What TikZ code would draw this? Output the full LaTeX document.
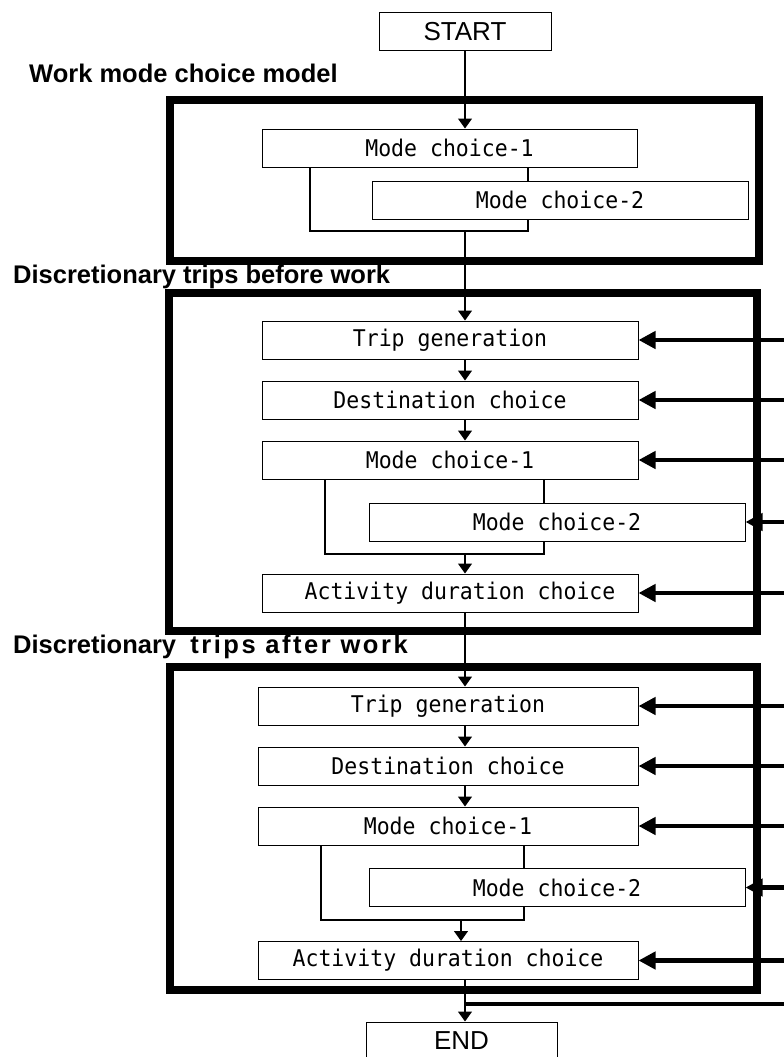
\documentclass[tikz,border=0pt]{standalone}
\usepackage{fontspec}
\setmainfont{Liberation Sans}
\newfontfamily\boxfont[FakeStretch=0.935]{DejaVu Sans Mono}
\usetikzlibrary{positioning,arrows.meta}

\begin{document}
\begin{tikzpicture}[
    x=1pt, y=-1pt,
    node distance=21pt,
    box/.style={draw, line width=1pt, inner sep=0pt, minimum width=376pt, minimum height=38pt, font=\boxfont\fontsize{23}{26}\selectfont},
    term/.style={draw, line width=1pt, inner sep=0pt, minimum width=172pt, minimum height=38pt, font=\fontsize{26}{30}\selectfont},
    frame/.style={line width=8pt},
    grp/.style={anchor=base west, inner sep=0pt, font=\bfseries\fontsize{25.5}{30}\selectfont},
    link/.style={line width=1.2pt},
    arr/.style={link, -{Triangle[length=10pt, width=14pt]}},
    feed/.style={line width=4.3pt, -{Triangle[length=17pt, width=17pt]}}
]
\useasboundingbox (0,0) rectangle (784,1057);
\coordinate (edge) at (784,0);

\draw[frame] (170,100) rectangle (759,261);
\draw[frame] (169,293) rectangle (757,631);
\draw[frame] (170,667) rectangle (757,990);

\node[grp] (lwork) at (29,82) {Work mode choice model};
\node[grp] (lbefore) at (13,283) {Discretionary trips before work};
\node[grp] (lafter) at (13,653) {Discretionary\ \ {\addfontfeature{LetterSpace=10}trips after work}};

\node[term] (start) at (465,32) {START};
\node[box, minimum width=375pt] (wmc1) at (449.5,148) {Mode choice-1};
\node[box] (wmc2) at (560,200) {Mode choice-2};
\coordinate (wl) at (310,231);
\coordinate (wr) at (528,231);
\coordinate (wj) at (465,231);

\node[box] (tg1) at (450,340) {Trip generation};
\node[box, below=of tg1] (dc1) {Destination choice};
\node[box, below=of dc1] (mc1) {Mode choice-1};
\node[box] (mo1) at (557,522) {Mode choice-2};
\node[box] (ad1) at (450,593) {\hspace{20pt}Activity duration choice};
\coordinate (bl) at (325,554);
\coordinate (br) at (544,554);
\coordinate (bj) at (465,554);

\node[box, minimum width=380pt] (tg2) at (448,706) {Trip generation};
\node[box, minimum width=380pt, below=of tg2] (dc2) {Destination choice};
\node[box, minimum width=380pt, below=of dc2] (mc2) {Mode choice-1};
\node[box] (mo2) at (557,887.5) {Mode choice-2};
\node[box, minimum width=380pt] (ad2) at (448,960.5) {Activity duration choice};
\coordinate (al) at (321,920);
\coordinate (ar) at (524,920);
\coordinate (aj) at (461,920);

\node[term, minimum width=191pt] (end) at (461.5,1041) {END};
\coordinate (fb) at (465,1004);

\draw[arr] (start) -- (start |- wmc1.north);
\draw[link] (wmc1.south -| wl) -- (wl) -- (wr) -- (wmc2.south -| wr);
\draw[link] (wmc1.south -| wr) -- (wmc2.north -| wr);
\draw[arr] (wj) -- (wj |- tg1.north);

\draw[arr] (tg1.south -| wj) -- (dc1.north -| wj);
\draw[arr] (dc1.south -| wj) -- (mc1.north -| wj);
\draw[link] (mc1.south -| bl) -- (bl) -- (br) -- (mo1.south -| br);
\draw[link] (mc1.south -| br) -- (mo1.north -| br);
\draw[arr] (bj) -- (bj |- ad1.north);
\draw[arr] (ad1.south -| bj) -- (tg2.north -| bj);

\draw[arr] (tg2.south -| bj) -- (dc2.north -| bj);
\draw[arr] (dc2.south -| bj) -- (mc2.north -| bj);
\draw[link] (mc2.south -| al) -- (al) -- (ar) -- (mo2.south -| ar);
\draw[link] (mc2.south -| ar) -- (mo2.north -| ar);
\draw[arr] (aj) -- (aj |- ad2.north);
\draw[arr] (ad2.south -| fb) -- (end.north -| fb);

\foreach \n in {tg1,dc1,mc1,mo1,ad1,tg2,dc2,mc2,mo2,ad2}
  \draw[feed] (\n.east -| edge) -- (\n.east);
\draw[line width=4.3pt] (fb -| edge) -- (fb);
\end{tikzpicture}
\end{document}
